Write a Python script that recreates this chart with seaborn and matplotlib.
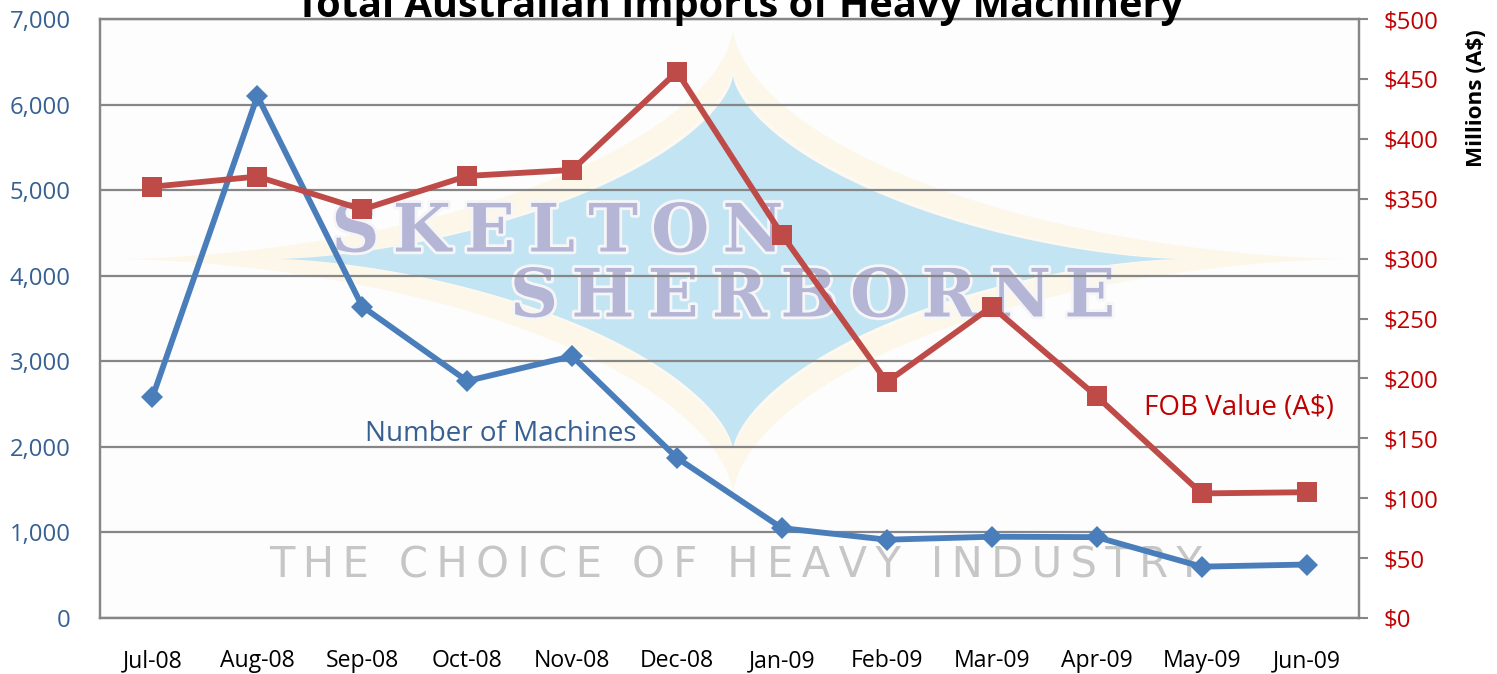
import numpy as np
import pandas as pd
import matplotlib
matplotlib.use("Agg")
import matplotlib.pyplot as plt
import matplotlib.patheffects as pe
from matplotlib.ticker import FuncFormatter, MultipleLocator
import seaborn as sns

months = ["Jul-08", "Aug-08", "Sep-08", "Oct-08", "Nov-08", "Dec-08",
          "Jan-09", "Feb-09", "Mar-09", "Apr-09", "May-09", "Jun-09"]
machines = [2580, 6100, 3640, 2770, 3060, 1870, 1050, 915, 950, 945, 600, 625]
fob_value = [360, 368.5, 341, 369, 374, 456, 320, 197, 260, 185, 104, 105]

W, H = 1497, 674
BLUE, RED = "#4A7EBB", "#BE4B48"
BLUE_TXT, RED_TXT = "#376092", "#C00000"
GREY = "#868686"

sns.set_theme(style="white")
plt.rcParams["font.family"] = ["Open Sans", "DejaVu Sans"]

fig = plt.figure(figsize=(W / 100, H / 100), dpi=100, facecolor="white")
ax = fig.add_axes([100 / W, 1 - 618 / H, 1259 / W, 599 / H])
ax.set_facecolor("#FDFDFD")

df = pd.DataFrame({"month": months, "machines": machines, "fob": fob_value})


def star(cx, cy, left, right, up, down, p, color, z):
    t = np.linspace(0, 2 * np.pi, 721)
    c, s = np.cos(t), np.sin(t)
    xs = cx + np.where(c < 0, left, right) * np.sign(c) * np.abs(c) ** p
    ys = cy + np.where(s > 0, up, down) * np.sign(s) * np.abs(s) ** p
    ax.fill(xs, H - ys, color=color, lw=0, transform=None, zorder=z, clip_on=False)


star(733, 259, 616, 617, 236, 231, 3.3, "#FCF7E9", 1.0)
star(733, 259, 462, 461, 196, 191, 3.1, "#FDF9F0", 1.05)
star(733, 259, 456, 447, 191, 184, 3.1, "#C3E4F2", 1.1)


def mark(x, y, s, **kw):
    ax.text(x / W, 1 - y / H, s, transform=fig.transFigure, ha="center",
            va="center", zorder=1.2, **kw)


halo = [pe.withStroke(linewidth=4, foreground="#F6F6F8")]
mark(557, 233, "\u200a\u200a".join("SKELTON"), family="DejaVu Serif", weight="bold",
     fontsize=48, color="#B5B5D6", path_effects=halo)
mark(812, 298, "\u200a\u200a".join("SHERBORNE"), family="DejaVu Serif", weight="bold",
     fontsize=48, color="#B5B5D6", path_effects=halo)
mark(736, 566, "\u2009".join("THE CHOICE OF HEAVY INDUSTRY"), family="DejaVu Sans",
     fontsize=30, color="#C6C6C6")

sns.lineplot(data=df, x="month", y="machines", ax=ax, sort=False, color=BLUE, lw=4.2,
             marker="D", markersize=11, markeredgewidth=0, zorder=3, errorbar=None)
ax.set_xlim(-0.5, 11.5)
ax.set_ylim(0, 7000)
ax.yaxis.set_major_locator(MultipleLocator(1000))
ax.yaxis.set_major_formatter(FuncFormatter(lambda v, _: f"{v:,.0f}"))
ax.set_axisbelow("line")
ax.grid(axis="y", color=GREY, lw=1.6)
ax.grid(axis="x", visible=False)
ax.set_xlabel("")
ax.set_ylabel("")

ax2 = ax.twinx()
ax2.patch.set_visible(False)
sns.lineplot(data=df, x="month", y="fob", ax=ax2, sort=False, color=RED, lw=4.2,
             marker="s", markersize=14, markeredgewidth=0, zorder=4, errorbar=None)
ax2.set_ylim(0, 500)
ax2.yaxis.set_major_locator(MultipleLocator(50))
ax2.yaxis.set_major_formatter(FuncFormatter(lambda v, _: f"${v:,.0f}"))
ax2.tick_params(axis="y", right=True, length=6.5, width=1.5, color=GREY, pad=11,
                labelsize=17.2, labelcolor=RED_TXT)
ax2.tick_params(axis="x", bottom=False, labelbottom=False)
ax2.set_xlabel("")
ax2.set_ylabel("")
ax2.grid(False)

ax.tick_params(axis="y", left=False, pad=15, labelsize=17.2, labelcolor=BLUE_TXT)
ax.tick_params(axis="x", bottom=False, pad=16.5, labelsize=16.6, labelcolor="black")

for a in (ax, ax2):
    for side, sp in a.spines.items():
        sp.set_visible(True)
        sp.set_color(GREY)
        sp.set_linewidth(1.6)

fig.text(740 / W, 1 - 6 / H, "Total Australian Imports of Heavy Machinery",
         ha="center", va="center", weight="bold", fontsize=28.6, color="black")
fig.text(1476 / W, 1 - 98 / H, "Millions (A$)", rotation=90, ha="center", va="center",
         weight="bold", fontsize=16.2, color="black")
fig.text(501 / W, 1 - 434 / H, "Number of Machines", ha="center", va="center",
         fontsize=20, color=BLUE_TXT, zorder=6)
fig.text(1239 / W, 1 - 408 / H, "FOB Value (A$)", ha="center", va="center",
         fontsize=20, color=RED_TXT, zorder=6)

fig.savefig("out.png", dpi=100)
